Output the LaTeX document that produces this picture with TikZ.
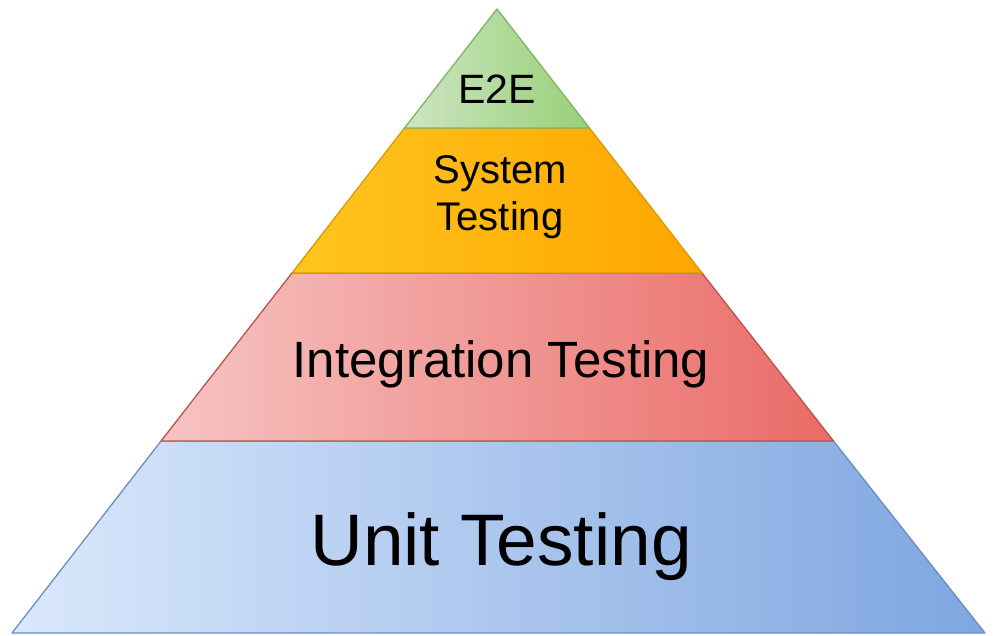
\documentclass[tikz,border=0pt]{standalone}
\usepackage{fontspec}
\setmainfont{Liberation Sans}
\definecolor{gL}{HTML}{CDE5C3}\definecolor{gR}{HTML}{97D077}\definecolor{gS}{HTML}{82B366}
\definecolor{oL}{HTML}{FFC61E}\definecolor{oR}{HTML}{FFA500}\definecolor{oS}{HTML}{D79B00}
\definecolor{rL}{HTML}{F6C4C3}\definecolor{rR}{HTML}{EA6B66}\definecolor{rS}{HTML}{B85450}
\definecolor{bL}{HTML}{DAE8FC}\definecolor{bR}{HTML}{7EA6E0}\definecolor{bS}{HTML}{6C8EBF}
\tikzset{
  layer/.style={line width=1.3pt, line join=round},
  lbl/.style={anchor=base, inner sep=0pt, text=black},
}
\begin{document}
\begin{tikzpicture}[x=1pt,y=-1pt]
\useasboundingbox (0,0) rectangle (993,635);
\coordinate (A) at (497,9);
\coordinate (L1) at (404.5,128); \coordinate (R1) at (589.5,128);
\coordinate (L2) at (292,273);   \coordinate (R2) at (702,273);
\coordinate (L3) at (161,441);   \coordinate (R3) at (833.5,441);
\coordinate (L4) at (12,633);    \coordinate (R4) at (985,633);
\path[layer, left color=bL, right color=bR, draw=bS] (L3) -- (R3) -- (R4) -- (L4) -- cycle;
\path[layer, left color=rL, right color=rR, draw=rS] (L2) -- (R2) -- (R3) -- (L3) -- cycle;
\path[layer, left color=oL, right color=oR, draw=oS] (L1) -- (R1) -- (R2) -- (L2) -- cycle;
\path[layer, left color=gL, right color=gR, draw=gS] (A) -- (R1) -- (L1) -- cycle;
\node[lbl, font=\fontsize{41}{41}\selectfont] (e2e) at (497,103) {E2E};
\node[lbl, font=\fontsize{40}{40}\selectfont] (sys1) at (500,183) {System};
\node[lbl, font=\fontsize{40}{40}\selectfont] (sys2) at (500,230) {Testing};
\node[lbl, font=\fontsize{51}{51}\selectfont] (int) at (501,377) {Integration Testing};
\node[lbl, font=\fontsize{73}{73}\selectfont] (unit) at (501,565) {Unit Testing};
\end{tikzpicture}
\end{document}
